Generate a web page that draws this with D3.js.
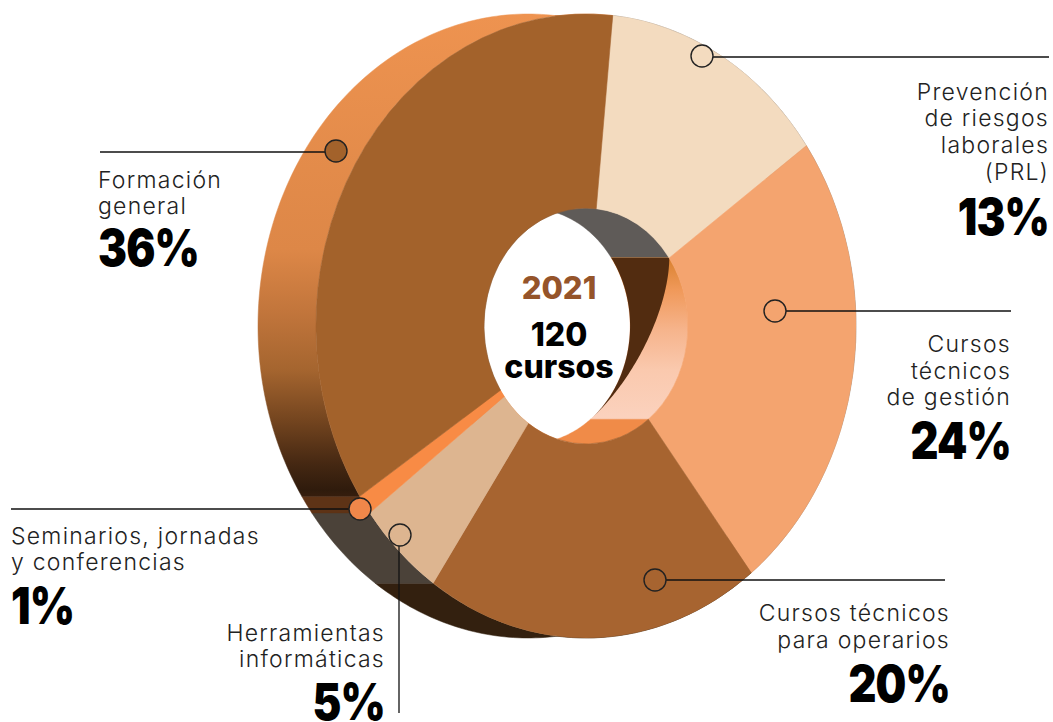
<!DOCTYPE html>
<html>
<head>
<meta charset="utf-8">
<script src="https://cdnjs.cloudflare.com/ajax/libs/d3/7.8.5/d3.min.js"></script>
<style>
html,body{margin:0;padding:0;background:#fff;overflow:hidden}
svg{display:block}
text{font-family:Inter,"Open Sans",sans-serif}
</style>
</head>
<body>
<svg id="c" width="1053" height="722"></svg>
<script>
// ---- data ----
const categories = ["Prevención de riesgos laborales (PRL)","Cursos técnicos de gestión","Cursos técnicos para operarios","Herramientas informáticas","Seminarios, jornadas y conferencias","Formación general"];
const values = [13,24,20,5,1,36];              // printed percentages
const drawnShares = [13.6,24.3,20.05,5.2,1.03,35.75]; // wedge sizes
const labelLines = [["Prevención","de riesgos","laborales","(PRL)"],["Cursos","técnicos","de gestión"],["Cursos técnicos","para operarios"],["Herramientas","informáticas"],["Seminarios, jornadas","y conferencias"],["Formación","general"]];
const centerYear = "2021";
const centerLines = ["120","cursos"];

// ---- styling & layout ----
const faceColors = ["#F3DBBF","#F4A46F","#A76430","#DDB590","#F88B45","#A3622B"];
const outerWall = ["#8a8078","#8a8078","#33200F","#4B4239","#5E3316","url(#wallGrad)"];
const innerWall = ["#5F5B58","url(#innerGrad)","#F08B48","#F08B48","#F08B48","#5F5B58"];
const cx=586, cy=326, rx=270, ry=312, holeRatio=0.378, depth=58;
const startDeg=5.7;
const leaders=[
 {c:[702,56],l:[[713,57],[1049,57]]},
 {c:[775,311],l:[[786,311],[1011,311]]},
 {c:[655,580],l:[[666,580],[945,580]]},
 {c:[400,535],l:[[399,546],[399,713]]},
 {c:[360,509],l:[[11,509],[349,509]]},
 {c:[336,151],l:[[100,152],[325,152]]}
];
const circleFill=["#F3DBBF","#F4A46F","#A76430","#DDB590","#F0874A","#A3622B"];
const textLayout=[
 {x:1049,a:"end",y:[100,126,153,180],py:235},
 {x:1011,a:"end",y:[352,379,405],py:459},
 {x:950,a:"end",y:[621,648],py:702},
 {x:385,a:"end",y:[641,667],py:720},
 {x:11,a:"start",y:[544,570],py:624},
 {x:98,a:"start",y:[188,214],py:266}
];

const svg=d3.select("#c");
const defs=svg.append("defs");
function grad(id,y1,y2,stops){
  const g=defs.append("linearGradient").attr("id",id).attr("gradientUnits","userSpaceOnUse")
    .attr("x1",0).attr("x2",0).attr("y1",y1).attr("y2",y2);
  stops.forEach(s=>g.append("stop").attr("offset",(s[0]-y1)/(y2-y1)).attr("stop-color",s[1]));
}
grad("wallGrad",14,500,[[14,"#EE9350"],[250,"#DD8747"],[320,"#BE733A"],[370,"#A5652F"],[420,"#74451F"],[465,"#442712"],[490,"#2F1B0C"],[500,"#3A1F0E"]]);
grad("innerGrad",258,420,[[258,"#D9812F"],[290,"#F0995A"],[330,"#F6B48C"],[370,"#FAC9AE"],[420,"#FBD2BE"]]);

// angles from d3.pie
const pie=d3.pie().sort(null).value(d=>d).startAngle(startDeg*Math.PI/180).endAngle((startDeg+360)*Math.PI/180);
const arcs=pie(drawnShares);

// point on a unit-ring arc
const pt=(a,r,dx=0)=>[cx+dx+rx*r*Math.sin(a), cy-ry*r*Math.cos(a)];
const line=d3.line();
function wall(a0,a1,r,dxA,dxB){
  const n=Math.max(4,Math.ceil((a1-a0)*60));
  const as=d3.range(n+1).map(i=>a0+(a1-a0)*i/n);
  const f=as.map((a,i)=>pt(a,r,typeof dxA==="function"?dxA(i/n):dxA));
  const b=as.map((a,i)=>pt(a,r,typeof dxB==="function"?dxB(i/n):dxB)).reverse();
  return line(f.concat(b))+"Z";
}

const gOuter=svg.append("g");
arcs.forEach((d,i)=>{
  gOuter.append("path").attr("d",wall(d.startAngle,d.endAngle,1,0,-depth)).attr("fill",outerWall[i]).attr("stroke",outerWall[i]).attr("stroke-width",.5);
});
const gInner=svg.append("g");
arcs.forEach((d,i)=>{
  gInner.append("path").attr("d",wall(d.startAngle,d.endAngle,holeRatio,0,-depth)).attr("fill",innerWall[i]).attr("stroke",innerWall[i]).attr("stroke-width",.4);
});
// dark shadow inside the hole across the "gestión" slice
const sh=arcs[1];
gInner.append("path")
  .attr("d",wall(sh.startAngle,sh.endAngle,holeRatio,t=>-depth*Math.sin(t*Math.PI/2),-depth))
  .attr("fill","#522C10").style("filter","blur(.7px)");

// front faces
const arcGen=d3.arc().innerRadius(holeRatio).outerRadius(1);
svg.append("g").attr("transform",`translate(${cx},${cy}) scale(${rx},${ry})`)
  .selectAll("path").data(arcs).join("path")
  .attr("d",arcGen).attr("fill",(d,i)=>faceColors[i])
  .attr("stroke",(d,i)=>faceColors[i]).attr("stroke-width",.002);

// leaders
const gl=svg.append("g");
leaders.forEach((d,i)=>{
  gl.append("line").attr("x1",d.l[0][0]).attr("y1",d.l[0][1]).attr("x2",d.l[1][0]).attr("y2",d.l[1][1]).attr("stroke","#111").attr("stroke-width",1.3);
  gl.append("circle").attr("cx",d.c[0]).attr("cy",d.c[1]).attr("r",11).attr("fill",circleFill[i]).attr("stroke","#222").attr("stroke-width",1.4);
});

// labels
const gt=svg.append("g");
textLayout.forEach((t,i)=>{
  labelLines[i].forEach((s,j)=>{
    gt.append("text").attr("x",t.x).attr("y",t.y[j]).attr("text-anchor",t.a)
      .attr("font-size",23).attr("font-weight",300).attr("fill","#222").style("letter-spacing","1.25px").text(s);
  });
  const p=gt.append("text").attr("x",t.x).attr("y",t.py).attr("text-anchor",t.a)
    .attr("font-size",51).attr("font-weight",900).attr("fill","#000").style("letter-spacing","-1px").text(values[i]+"%");
  p.attr("textLength",p.node().getComputedTextLength()*0.85).attr("lengthAdjust","spacingAndGlyphs");
});
// centre
gt.append("text").attr("x",559).attr("y",299).attr("text-anchor","middle").attr("font-size",31).attr("font-weight",800).attr("fill","#95542A").text(centerYear);
gt.append("text").attr("x",559).attr("y",346).attr("text-anchor","middle").attr("font-size",32).attr("font-weight",800).attr("fill","#000").text(centerLines[0]);
gt.append("text").attr("x",559).attr("y",378).attr("text-anchor","middle").attr("font-size",32).attr("font-weight",800).attr("fill","#000").text(centerLines[1]);
</script>
</body>
</html>
